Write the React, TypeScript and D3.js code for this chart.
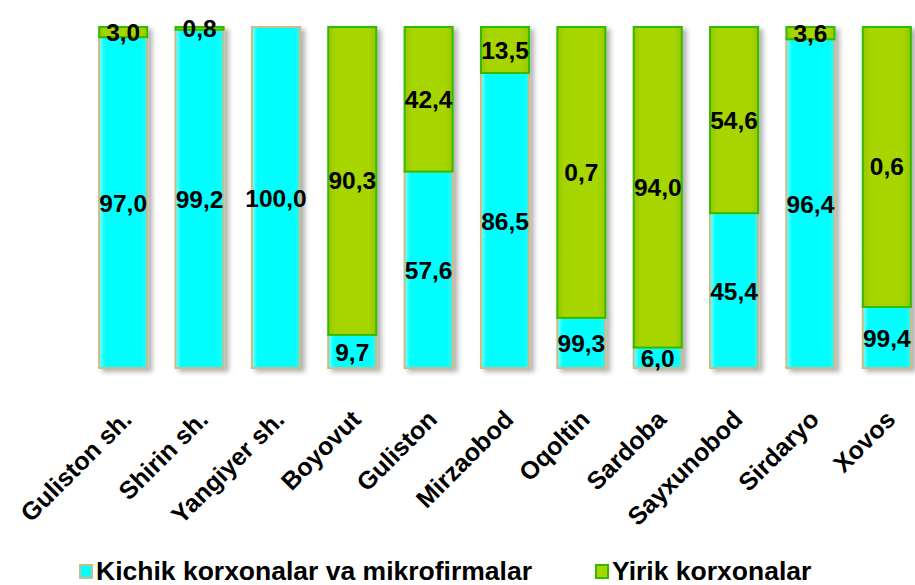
import React from "react";
import * as d3 from "d3";

const categories = [
  "Guliston sh.", "Shirin sh.", "Yangiyer sh.", "Boyovut", "Guliston", "Mirzaobod",
  "Oqoltin", "Sardoba", "Sayxunobod", "Sirdaryo", "Xovos",
];
// share of small enterprises as drawn in the picture (%)
const smallShare = [97.0, 99.2, 100.0, 9.7, 57.6, 86.5, 14.7, 6.0, 45.4, 96.4, 17.9];
// labels as printed on the bars
const smallLabels = ["97,0", "99,2", "100,0", "9,7", "57,6", "86,5", "99,3", "6,0", "45,4", "96,4", "99,4"];
const largeLabels = ["3,0", "0,8", "", "90,3", "42,4", "13,5", "0,7", "94,0", "54,6", "3,6", "0,6"];
const seriesNames = ["Kichik korxonalar va mikrofirmalar", "Yirik korxonalar"];

const W = 915;
const H = 585;
const font = "'Liberation Sans', Arial, sans-serif";

export default function App() {
  const x = d3.scaleBand().domain(categories).range([85, 925]).paddingInner(0.37).paddingOuter(0.185);
  const y = d3.scaleLinear().domain([0, 100]).range([368, 27]);
  const bw = x.bandwidth();

  return (
    <svg width={W} height={H} style={{ position: "absolute", left: 0, top: 0, background: "#fff" }}>
      <defs>
        <filter id="shadow" x="-20%" y="-5%" width="150%" height="115%">
          <feDropShadow dx="4" dy="3" stdDeviation="2.5" floodColor="#000" floodOpacity="0.3" />
        </filter>
        <linearGradient id="greenGrad" x1="0" x2="1" y1="0" y2="0">
          <stop offset="0" stopColor="#96C600" />
          <stop offset="0.15" stopColor="#A6D500" />
          <stop offset="0.85" stopColor="#A6D500" />
          <stop offset="1" stopColor="#96C600" />
        </linearGradient>
        <linearGradient id="cyanGrad" x1="0" x2="1" y1="0" y2="0">
          <stop offset="0" stopColor="#7FFFFF" />
          <stop offset="0.12" stopColor="#00FFFF" />
          <stop offset="0.88" stopColor="#00FFFF" />
          <stop offset="1" stopColor="#40F0F0" />
        </linearGradient>
      </defs>

      {categories.map((c, i) => {
        const x0 = x(c)!;
        const v = smallShare[i];
        const cx = x0 + bw / 2;
        return (
          <g key={c}>
            <g filter="url(#shadow)">
              <rect x={x0} y={y(v)} width={bw} height={y(0) - y(v)} fill="url(#cyanGrad)" stroke="#C9BC86" strokeWidth={2} />
              {v < 100 && (
                <rect x={x0} y={y(100)} width={bw} height={y(v) - y(100)} fill="url(#greenGrad)" stroke="#33BB00" strokeWidth={2} />
              )}
            </g>
            <text x={cx} y={(y(v) + y(0)) / 2 + 1} textAnchor="middle" dominantBaseline="central"
              fontFamily={font} fontWeight="bold" fontSize={24.5} fill="#000">{smallLabels[i]}</text>
            {largeLabels[i] && (
              <text x={cx} y={(y(100) + y(v)) / 2} textAnchor="middle" dominantBaseline="central"
                fontFamily={font} fontWeight="bold" fontSize={24.5} fill="#000">{largeLabels[i]}</text>
            )}
            <text transform={`translate(${cx + 10},${421}) rotate(-45)`} textAnchor="end"
              fontFamily={font} fontWeight="bold" fontSize={25} fill="#000">{c}</text>
          </g>
        );
      })}

      {/* legend */}
      <g fontFamily={font} fontWeight="bold" fontSize={26.5} fill="#000">
        <rect x={80} y={565} width={12} height={13} fill="url(#cyanGrad)" stroke="#C9BC86" strokeWidth={2} />
        <text x={96} y={580}>{seriesNames[0]}</text>
        <rect x={596} y={565} width={12} height={13} fill="#A6D500" stroke="#33BB00" strokeWidth={2} />
        <text x={612} y={580}>{seriesNames[1]}</text>
      </g>
    </svg>
  );
}
